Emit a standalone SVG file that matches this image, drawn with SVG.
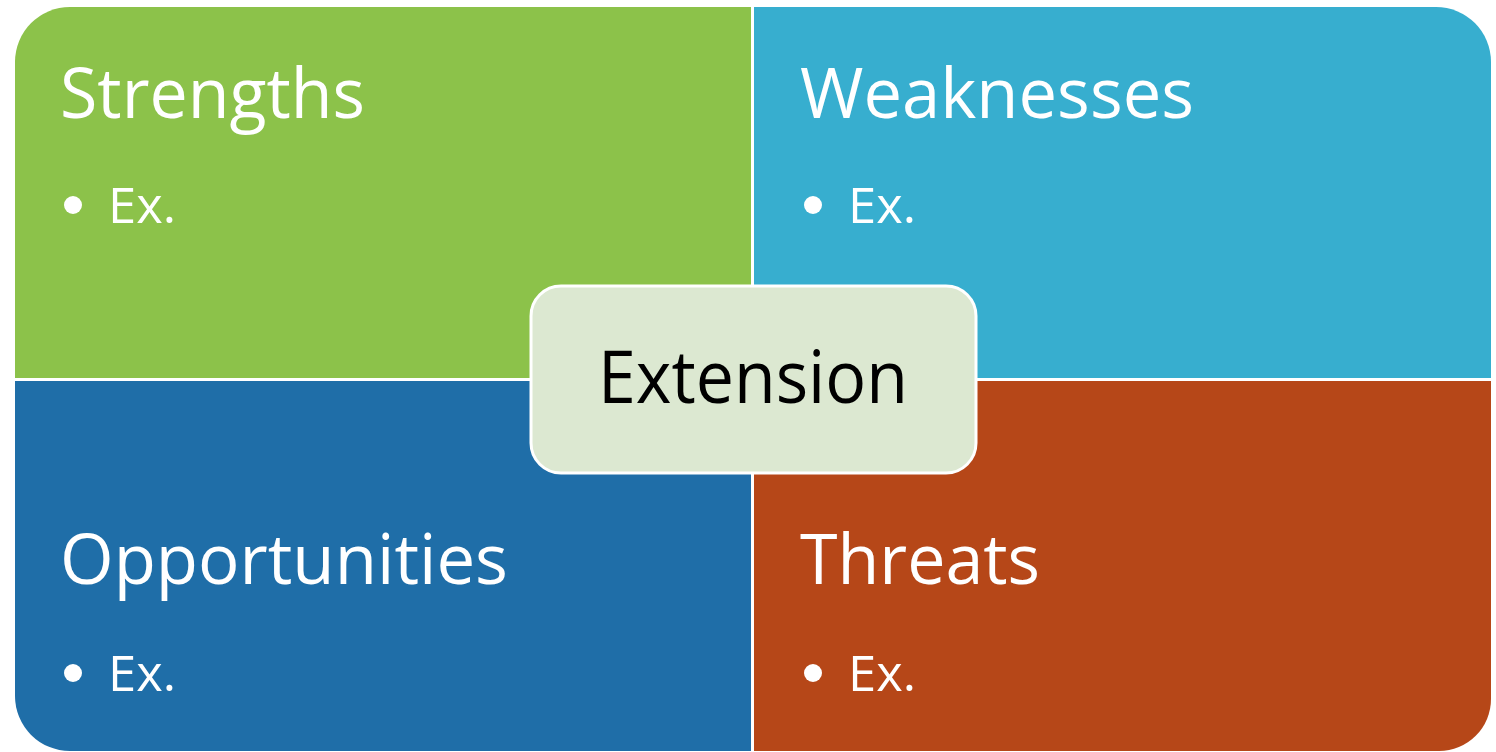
<svg xmlns="http://www.w3.org/2000/svg" width="1496" height="752" viewBox="0 0 1496 752">
<style>
.title{font-family:"Open Sans","Liberation Sans",sans-serif;font-size:70px;fill:#ffffff}
.item{font-family:"Open Sans","Liberation Sans",sans-serif;font-size:50px;fill:#ffffff}
.center{font-family:"Open Sans","Liberation Sans",sans-serif;font-size:74px;fill:#000000}
.dot{fill:#ffffff}
</style>
<rect width="1496" height="752" fill="#ffffff"/>
<g id="strengths">
<path d="M15,62 A55,55 0 0 1 70,7 L751,7 L751,378 L15,378 Z" fill="#8CC24A"/>
<text class="title" x="60" y="118" textLength="305" lengthAdjust="spacingAndGlyphs">Strengths</text>
<circle class="dot" cx="73" cy="205" r="9"/>
<text class="item" x="108" y="223" textLength="68" lengthAdjust="spacingAndGlyphs">Ex.</text>
</g>
<g id="weaknesses">
<path d="M754,7 L1436,7 A55,55 0 0 1 1491,62 L1491,378 L754,378 Z" fill="#37AECF"/>
<text class="title" x="800" y="118" textLength="394" lengthAdjust="spacingAndGlyphs">Weaknesses</text>
<circle class="dot" cx="813" cy="205" r="9"/>
<text class="item" x="848" y="223" textLength="68" lengthAdjust="spacingAndGlyphs">Ex.</text>
</g>
<g id="opportunities">
<path d="M15,381 L751,381 L751,751 L70,751 A55,55 0 0 1 15,696 Z" fill="#1F6EA8"/>
<text class="title" x="60" y="584" textLength="448" lengthAdjust="spacingAndGlyphs">Opportunities</text>
<circle class="dot" cx="73" cy="673" r="9"/>
<text class="item" x="108" y="691" textLength="68" lengthAdjust="spacingAndGlyphs">Ex.</text>
</g>
<g id="threats">
<path d="M754,381 L1491,381 L1491,699 A52,52 0 0 1 1439,751 L754,751 Z" fill="#B64718"/>
<text class="title" x="800" y="584" textLength="240" lengthAdjust="spacingAndGlyphs">Threats</text>
<circle class="dot" cx="813" cy="673" r="9"/>
<text class="item" x="848" y="691" textLength="68" lengthAdjust="spacingAndGlyphs">Ex.</text>
</g>
<g id="connectors"></g>
<g id="extension">
<rect x="531" y="286" width="445" height="187" rx="30" ry="30" fill="#DCE8D1" stroke="#ffffff" stroke-width="3"/>
<text class="center" x="753" y="403" text-anchor="middle" textLength="310" lengthAdjust="spacingAndGlyphs">Extension</text>
</g>
</svg>
